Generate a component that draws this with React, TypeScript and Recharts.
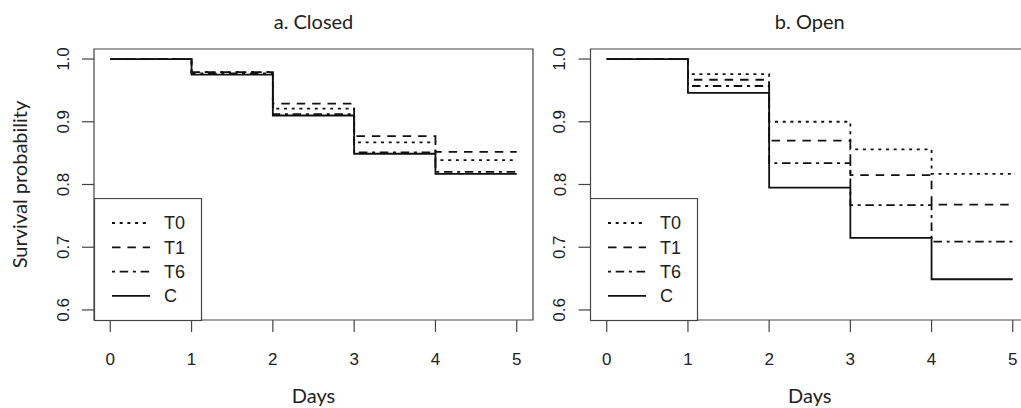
import { LineChart, Line, XAxis, YAxis, ReferenceArea, Legend } from 'recharts';

const days = [0, 1, 2, 3, 4, 5];
const groups = ['T0', 'T1', 'T6', 'C'];

// survival probability per day (last value = level held to day 5)
const closedT0 = [1, 0.979, 0.921, 0.867, 0.839, 0.839];
const closedT1 = [1, 0.979, 0.929, 0.877, 0.852, 0.852];
const closedT6 = [1, 0.977, 0.912, 0.851, 0.82, 0.82];
const closedC = [1, 0.975, 0.91, 0.849, 0.817, 0.817];

const openT0 = [1, 0.976, 0.9, 0.856, 0.817, 0.817];
const openT1 = [1, 0.967, 0.87, 0.815, 0.768, 0.768];
const openT6 = [1, 0.957, 0.834, 0.767, 0.709, 0.709];
const openC = [1, 0.946, 0.795, 0.715, 0.649, 0.649];

const xTicks = [0, 1, 2, 3, 4, 5];
const yTicks = [0.6, 0.7, 0.8, 0.9, 1.0];

const dashes: Record<string, string | undefined> = {
  T0: '3 4.7',
  T1: '8.5 6.9',
  T6: '3 4.7 8.5 4.7',
  C: undefined,
};

const toRows = (series: number[][]) =>
  days.map((d, i) => {
    const row: any = { day: d };
    groups.forEach((g, j) => (row[g] = series[j][i]));
    return row;
  });

const closedRows = toRows([closedT0, closedT1, closedT6, closedC]);
const openRows = toRows([openT0, openT1, openT6, openC]);

const INK = '#111';
const BOX = '#444';
const tickFont = '"Liberation Sans", Arial, sans-serif';
const titleFont = 'Lato, "Open Sans", sans-serif';

const RotTick = ({ x, y, payload }: any) => (
  <text
    x={x}
    y={y}
    transform={`rotate(-90 ${x} ${y})`}
    textAnchor="middle"
    fontSize={17}
    fill="#222"
    fontFamily={tickFont}
  >
    {Number(payload.value).toFixed(1)}
  </text>
);

const LegendBox = () => (
  <svg width={109} height={124} style={{ display: 'block' }}>
    <rect x={0.5} y={0.5} width={107} height={122} fill="#fff" stroke={BOX} strokeWidth={1.2} />
    {groups.map((g, i) => (
      <g key={g}>
        <line
          x1={18}
          x2={56}
          y1={25 + i * 24.3}
          y2={25 + i * 24.3}
          stroke={INK}
          strokeWidth={1.8}
          strokeDasharray={dashes[g]}
        />
        <text x={70} y={25 + i * 24.3} dy="0.36em" fontSize={18} fill="#222" fontFamily={tickFont}>
          {g}
        </text>
      </g>
    ))}
  </svg>
);

function Panel({ title, rows, left, width, yWidth, right, showYLabel }: any) {
  return (
    <div style={{ position: 'absolute', left, top: 0 }}>
      <LineChart width={width} height={408} data={rows} margin={{ top: 49, right, bottom: 0, left: 0 }}>
        <XAxis
          dataKey="day"
          type="number"
          domain={[-0.2, 5.2]}
          ticks={xTicks}
          interval={0}
          allowDataOverflow
          axisLine={false}
          tickSize={12}
          tickMargin={21}
          tickLine={{ stroke: BOX, strokeWidth: 1.2 }}
          tick={{ fontSize: 17, fill: '#222', fontFamily: tickFont }}
          height={88}
          label={{ value: 'Days', position: 'insideBottom', offset: 5, fontSize: 20, fill: '#222', fontFamily: titleFont }}
        />
        <YAxis
          type="number"
          domain={[0.584, 1.016]}
          ticks={yTicks}
          interval={0}
          allowDataOverflow
          axisLine={false}
          tickSize={12}
          tickMargin={13}
          tickLine={{ stroke: BOX, strokeWidth: 1.2 }}
          tick={<RotTick />}
          width={yWidth}
          label={
            showYLabel
              ? {
                  content: (p: any) => {
                    const vb = p.viewBox || { x: 0, y: 49, height: 271 };
                    const cx = vb.x + 27;
                    const cy = vb.y + vb.height / 2;
                    return (
                      <text
                        x={cx}
                        y={cy}
                        transform={`rotate(-90 ${cx} ${cy})`}
                        textAnchor="middle"
                        fontSize={20}
                        fill="#222"
                        fontFamily={titleFont}
                      >
                        Survival probability
                      </text>
                    );
                  },
                }
              : undefined
          }
        />
        <ReferenceArea
          x1={-0.2}
          x2={5.2}
          y1={0.584}
          y2={1.016}
          fill="none"
          stroke={BOX}
          strokeWidth={1.2}
          ifOverflow="visible"
          label={{ value: title, position: 'top', offset: 20, fontSize: 20, fill: '#222', fontFamily: titleFont }}
        />
        {groups.map((g) => (
          <Line
            key={g}
            dataKey={g}
            type="stepAfter"
            stroke={INK}
            strokeWidth={1.8}
            strokeDasharray={dashes[g]}
            dot={false}
            activeDot={false}
            isAnimationActive={false}
          />
        ))}
        <Legend
          layout="horizontal"
          align="center"
          verticalAlign="middle"
          content={() => <LegendBox />}
          wrapperStyle={{ left: yWidth - 0.5, top: 198, width: 109, height: 124, bottom: 'auto', right: 'auto' }}
        />
      </LineChart>
    </div>
  );
}

export default function App() {
  return (
    <div
      style={{
        position: 'absolute',
        left: 0,
        top: 0,
        width: 1021,
        height: 408,
        overflow: 'hidden',
        background: '#fff',
      }}
    >
      <Panel title="a. Closed" rows={closedRows} left={0} width={545} yWidth={94} right={12} showYLabel />
      <Panel title="b. Open" rows={openRows} left={545} width={500} yWidth={45.5} right={16} showYLabel={false} />
    </div>
  );
}
